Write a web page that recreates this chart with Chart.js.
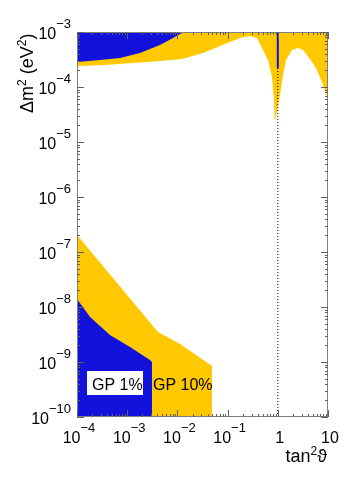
<!DOCTYPE html>
<html>
<head>
<meta charset="utf-8">
<script src="https://cdn.jsdelivr.net/npm/chart.js@4/dist/chart.umd.min.js"></script>
<style>
  body { margin: 0; background: #fff; }
  #wrap { width: 358px; height: 480px; }
</style>
</head>
<body>
<div id="wrap"><canvas id="chart" width="358" height="480"></canvas></div>
<script>
// axis ranges (log10 decades)
const X_MIN = 1e-4, X_MAX = 10;
const Y_MIN = 1e-10, Y_MAX = 1e-3;
const xTickExps = [-4, -3, -2, -1, 0, 1];
const yTickExps = [-10, -9, -8, -7, -6, -5, -4, -3];

// CP 10% region, large dm2 (lower edge, filled up to top)
const top10X = [1e-4, 3.6e-4, 1.3e-3, 4.5e-3, 0.0124, 0.0324, 0.0884, 0.177, 0.279, 0.385, 0.507, 0.638, 0.766, 0.84, 0.879, 0.964, 1.107, 1.27, 1.46, 1.92, 2.52, 3.18, 3.82, 4.8, 6.04, 7.26, 8.7, 10];
const top10Y = [2.41e-4, 2.5e-4, 2.73e-4, 2.97e-4, 3.23e-4, 4.15e-4, 6.05e-4, 7.78e-4, 8.46e-4, 7.78e-4, 4.71e-4, 3.1e-4, 1.52e-4, 5.8e-5, 2.2e-5, 3.8e-5, 7.2e-5, 1.65e-4, 3.1e-4, 4.71e-4, 5.12e-4, 4.71e-4, 3.82e-4, 2.85e-4, 2.04e-4, 1.34e-4, 8.8e-5, 5.8e-5];

// CP 1% region, large dm2
const top1X = [1e-4, 2.87e-4, 7.2e-4, 1.8e-3, 4.5e-3, 8.2e-3, 0.0113, 0.0142];
const top1Y = [2.85e-4, 3.1e-4, 3.37e-4, 4.15e-4, 5.8e-4, 7.78e-4, 9.2e-4, 1e-3];

// CP 1% thin strip at maximal mixing
const maxMixX = [1, 1];
const maxMixY = [1e-3, 2.2e-4];

// CP 10% region, small dm2 (upper edge, filled down to bottom)
const low10X = [1e-4, 4.11e-3, 0.0113, 0.0489, 0.0489];
const low10Y = [2.04e-7, 3.51e-9, 2.12e-9, 8.45e-10, 1e-10];

// CP 1% region, small dm2
const low1X = [1e-4, 1.82e-4, 4.54e-4, 1.14e-3, 2.84e-3, 3.12e-3, 3.12e-3];
const low1Y = [1.4e-8, 6.58e-9, 3.1e-9, 1.87e-9, 1.09e-9, 1e-9, 1e-10];

// dotted line tan^2 = 1
const oneX = [1, 1];
const oneY = [Y_MAX, Y_MIN];

const YELLOW = '#ffc800';
const BLUE = '#1212dc';
const AXIS = '#808080';
const FONT = '"Liberation Sans", Arial, sans-serif';

function pts(xs, ys) {
    return xs.map((x, i) => ({ x: x, y: ys[i] }));
}

function region(xs, ys, color, fill, order) {
    return {
        data: pts(xs, ys),
        showLine: true,
        fill: fill,
        backgroundColor: color,
        borderColor: color,
        borderWidth: 0,
        pointRadius: 0,
        tension: 0,
        order: order
    };
}

// superscripted text pieces: [text, isSup]
function pieceWidth(ctx, pieces, base, sup) {
    let w = 0;
    pieces.forEach(([t, s]) => {
        ctx.font = (s ? sup : base) + 'px ' + FONT;
        w += ctx.measureText(t).width;
    });
    return w;
}

function drawPieces(ctx, pieces, x, y, base, sup, raise) {
    pieces.forEach(([t, s]) => {
        ctx.font = (s ? sup : base) + 'px ' + FONT;
        ctx.fillText(t, x, s ? y - raise : y);
        x += ctx.measureText(t).width;
    });
}

function tickPieces(e) {
    if (e === 0) return [['1', false]];
    if (e === 1) return [['10', false]];
    return [['10', false], ['\u2212' + Math.abs(e), true]];
}

const axesPlugin = {
    id: 'axesPlugin',
    afterDatasetsDraw(chart) {
        const ctx = chart.ctx;
        const a = chart.chartArea;
        const xs = chart.scales.x, ys = chart.scales.y;
        ctx.save();

        // frame
        ctx.strokeStyle = AXIS;
        ctx.lineWidth = 1;
        ctx.strokeRect(a.left + 0.5, a.top + 0.5, a.right - a.left - 1, a.bottom - a.top - 1);

        // inside ticks
        ctx.strokeStyle = '#606060';
        ctx.beginPath();
        xTickExps.forEach(e => {
            for (let m = 1; m <= 9; m++) {
                const v = m * Math.pow(10, e);
                if (v > X_MAX * 1.0001) break;
                const px = Math.round(xs.getPixelForValue(v)) + 0.5;
                const len = m === 1 ? 7 : 3;
                ctx.moveTo(px, a.bottom); ctx.lineTo(px, a.bottom - len);
                ctx.moveTo(px, a.top); ctx.lineTo(px, a.top + len);
            }
        });
        yTickExps.forEach(e => {
            for (let m = 1; m <= 9; m++) {
                const v = m * Math.pow(10, e);
                if (v > Y_MAX * 1.0001) break;
                const py = Math.round(ys.getPixelForValue(v)) + 0.5;
                const len = m === 1 ? 7 : 3;
                ctx.moveTo(a.left, py); ctx.lineTo(a.left + len, py);
                ctx.moveTo(a.right, py); ctx.lineTo(a.right - len, py);
            }
        });
        ctx.stroke();

        ctx.fillStyle = '#000';
        ctx.textAlign = 'left';
        ctx.textBaseline = 'alphabetic';

        // x tick labels
        xTickExps.forEach(e => {
            const p = tickPieces(e);
            const w = pieceWidth(ctx, p, 16, 13);
            const px = xs.getPixelForValue(Math.pow(10, e));
            drawPieces(ctx, p, px - w / 2 + 2, a.bottom + 26, 16, 13, 11);
        });

        // y tick labels
        yTickExps.forEach(e => {
            const p = tickPieces(e);
            const w = pieceWidth(ctx, p, 16, 13);
            const py = ys.getPixelForValue(Math.pow(10, e));
            drawPieces(ctx, p, a.left - 6 - w, py + 7, 16, 13, 11);
        });

        // axis titles
        const xt = [['tan', false], ['2', true], ['\u03d1', false]];
        const xw = pieceWidth(ctx, xt, 18, 12);
        drawPieces(ctx, xt, a.right - 1 - xw, a.bottom + 45, 18, 12, 7);

        ctx.save();
        ctx.translate(33, 113);
        ctx.rotate(-Math.PI / 2);
        drawPieces(ctx, [['\u0394m', false], ['2', true], [' (eV', false], ['2', true], [')', false]], 0, 0, 18, 12, 7);
        ctx.restore();

        // region labels
        ctx.fillStyle = '#fff';
        ctx.fillRect(a.left + 10, a.bottom - 46, 56, 24);
        ctx.fillStyle = '#000';
        ctx.font = '16px ' + FONT;
        ctx.fillText('GP 1%', a.left + 15, a.bottom - 27);
        ctx.fillText('GP 10%', a.left + 76, a.bottom - 27);

        ctx.restore();
    }
};

new Chart(document.getElementById('chart').getContext('2d'), {
    type: 'scatter',
    data: {
        datasets: [
            region(top10X, top10Y, YELLOW, 'end', 5),
            region(low10X, low10Y, YELLOW, 'start', 5),
            region(top1X, top1Y, BLUE, 'end', 4),
            region(low1X, low1Y, BLUE, 'start', 4),
            {
                data: pts(oneX, oneY),
                showLine: true,
                borderColor: '#000',
                borderWidth: 1,
                borderDash: [1, 2],
                pointRadius: 0,
                fill: false,
                order: 2
            },
            {
                data: pts(maxMixX, maxMixY),
                showLine: true,
                borderColor: BLUE,
                borderWidth: 2,
                pointRadius: 0,
                fill: false,
                order: 1
            }
        ]
    },
    options: {
        responsive: false,
        animation: false,
        layout: { padding: { left: 77, right: 30, top: 32, bottom: 63 } },
        plugins: {
            legend: { display: false },
            tooltip: { enabled: false }
        },
        scales: {
            x: { type: 'logarithmic', min: X_MIN, max: X_MAX, display: false },
            y: { type: 'logarithmic', min: Y_MIN, max: Y_MAX, display: false }
        }
    },
    plugins: [axesPlugin]
});
</script>
</body>
</html>
